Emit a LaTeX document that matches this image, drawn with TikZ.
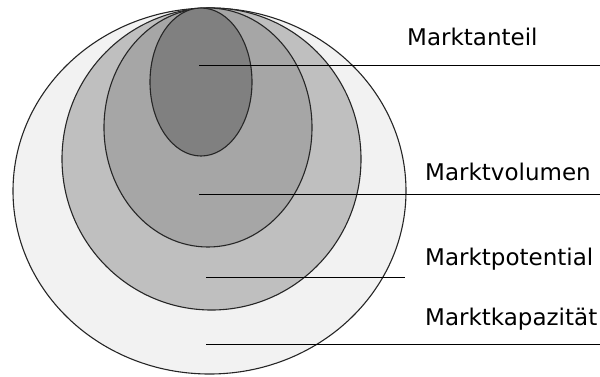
\documentclass[tikz,border=0pt]{standalone}
\usepackage{fontspec}
\setmainfont{DejaVu Sans}
\usepackage{tikz}
\usetikzlibrary{positioning,calc}
\definecolor{kapgray}{HTML}{F2F2F2}
\definecolor{potgray}{HTML}{BFBFBF}
\definecolor{volgray}{HTML}{A6A6A6}
\definecolor{antgray}{HTML}{808080}

\begin{document}
\begin{tikzpicture}[x=1pt,y=-1pt,
 ring/.style={draw=black!85,line width=1.1pt},
 lead/.style={draw=black,line width=1pt},
 lbl/.style={anchor=base west,inner sep=0pt,font=\fontsize{23}{26}\selectfont}]
\useasboundingbox (0,0) rectangle (600,376);
% market rings, outer to inner
\draw[ring,fill=kapgray] (209.5,191) ellipse [x radius=196.5,y radius=183];
\draw[ring,fill=potgray] (211.5,159) ellipse [x radius=149.5,y radius=151];
\draw[ring,fill=volgray] (208,127.5) ellipse [x radius=104,y radius=119.5];
\draw[ring,fill=antgray] (201,82) ellipse [x radius=51,y radius=74];
% leader lines
\coordinate (ant) at (199,65);
\coordinate (vol) at (199,194);
\coordinate (pot) at (206,277);
\coordinate (kap) at (206,344);
\coordinate (antend) at (600,65);
\coordinate (volend) at (600,194);
\coordinate (potend) at (405,277);
\coordinate (kapend) at (600,344);
\draw[lead] (ant) -- (antend);
\draw[lead] (vol) -- (volend);
\draw[lead] (pot) -- (potend);
\draw[lead] (kap) -- (kapend);
% labels
\node[lbl] (antlbl) at (407,45) {Marktanteil};
\node[lbl] (vollbl) at (425,180) {Marktvolumen};
\node[lbl] (potlbl) at (425,265) {Marktpotential};
\node[lbl] (kaplbl) at (425,325) {Marktkapazität};
\end{tikzpicture}
\end{document}
